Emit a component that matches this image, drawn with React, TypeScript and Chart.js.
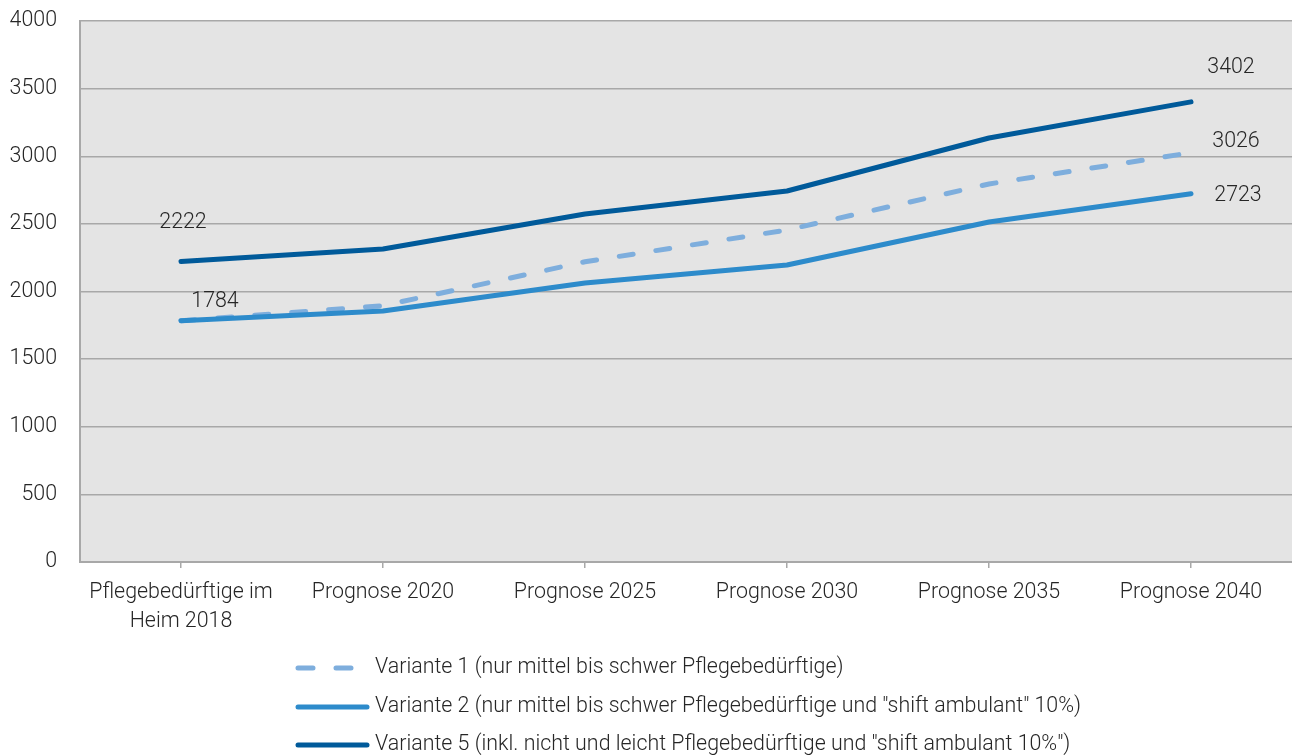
import React, { useEffect, useRef } from "react";
import { Chart, registerables } from "chart.js";

Chart.register(...registerables);

const categories: (string | string[])[] = [
  ["Pflegebedürftige im", "Heim 2018"],
  "Prognose 2020",
  "Prognose 2025",
  "Prognose 2030",
  "Prognose 2035",
  "Prognose 2040",
];

const variante1 = [1784, 1895, 2220, 2455, 2795, 3026];
const variante2 = [1784, 1856, 2063, 2196, 2514, 2723];
const variante5 = [2222, 2314, 2573, 2743, 3135, 3402];

const seriesNames = [
  "Variante 1 (nur mittel bis schwer Pflegebedürftige)",
  "Variante 2 (nur mittel bis schwer Pflegebedürftige und \"shift ambulant\" 10%)",
  "Variante 5 (inkl. nicht und leicht Pflegebedürftige und \"shift ambulant 10%\")",
];

const yTicks = [0, 500, 1000, 1500, 2000, 2500, 3000, 3500, 4000];

const COLOR_V1 = "#7eaedd";
const COLOR_V2 = "#2d8bcb";
const COLOR_V5 = "#005a9a";
const GRID = "#a8a8a8";
const TEXT = "#262626";
const FONT = "Roboto";
const FONT_SIZE = 21.4;

// Value labels: [datasetIndex, pointIndex, dx, dy]
const valueLabels: [number, number, number, number][] = [
  [2, 0, 2, -39],
  [1, 0, 34, -19],
  [2, 5, 40, -34],
  [0, 5, 45, -11],
  [1, 5, 47, 2],
];

const plotBackground = {
  id: "plotBackground",
  beforeDraw(chart: any) {
    const { ctx, chartArea } = chart;
    ctx.save();
    ctx.fillStyle = "#e4e4e4";
    ctx.fillRect(chartArea.left, chartArea.top, chartArea.right - chartArea.left, chartArea.bottom - chartArea.top);
    ctx.restore();
  },
};

const pointValues = {
  id: "pointValues",
  afterDatasetsDraw(chart: any) {
    const { ctx } = chart;
    ctx.save();
    ctx.font = `300 ${FONT_SIZE}px ${FONT}`;
    ctx.fillStyle = TEXT;
    ctx.textAlign = "center";
    ctx.textBaseline = "middle";
    for (const [ds, idx, dx, dy] of valueLabels) {
      const el = chart.getDatasetMeta(ds).data[idx];
      const v = chart.data.datasets[ds].data[idx];
      ctx.fillText(String(v), el.x + dx, el.y + dy);
    }
    ctx.restore();
  },
};

const stackedLegend = {
  id: "stackedLegend",
  afterDraw(chart: any) {
    const { ctx } = chart;
    const rows = [668, 707, 745];
    const x0 = 298;
    const x1 = 367;
    ctx.save();
    chart.data.datasets.forEach((ds: any, i: number) => {
      const y = rows[i];
      ctx.beginPath();
      ctx.strokeStyle = ds.borderColor;
      ctx.lineWidth = 5;
      ctx.lineCap = "round";
      if (ds.borderDash && ds.borderDash.length) {
        ctx.setLineDash([15, 23]);
      } else {
        ctx.setLineDash([]);
      }
      ctx.moveTo(x0, y);
      ctx.lineTo(x1, y);
      ctx.stroke();
      ctx.setLineDash([]);
      ctx.font = `300 ${FONT_SIZE}px ${FONT}`;
      ctx.fillStyle = TEXT;
      ctx.textAlign = "left";
      ctx.textBaseline = "middle";
      ctx.fillText(ds.label, 375, y);
    });
    ctx.restore();
  },
};

export default function App() {
  const canvasRef = useRef<HTMLCanvasElement>(null);

  useEffect(() => {
    document.body.style.margin = "0";
    const canvas = canvasRef.current;
    if (!canvas) return;
    const chart = new Chart(canvas, {
      type: "line",
      data: {
        labels: categories,
        datasets: [
          {
            label: seriesNames[0],
            data: variante1,
            borderColor: COLOR_V1,
            borderWidth: 5,
            borderDash: [14, 23],
            borderCapStyle: "round",
            pointRadius: 0,
            tension: 0,
            order: 3,
          },
          {
            label: seriesNames[1],
            data: variante2,
            borderColor: COLOR_V2,
            borderWidth: 5,
            borderCapStyle: "round",
            borderJoinStyle: "round",
            pointRadius: 0,
            tension: 0,
            order: 2,
          },
          {
            label: seriesNames[2],
            data: variante5,
            borderColor: COLOR_V5,
            borderWidth: 5,
            borderCapStyle: "round",
            borderJoinStyle: "round",
            pointRadius: 0,
            tension: 0,
            order: 1,
          },
        ] as any,
      },
      options: {
        animation: false,
        responsive: false,
        maintainAspectRatio: false,
        layout: { padding: { top: 21, right: 0, left: 0, bottom: 0 } },
        plugins: {
          legend: { display: false },
          tooltip: { enabled: false },
        },
        scales: {
          x: {
            offset: true,
            grid: {
              offset: false,
              drawOnChartArea: false,
              drawTicks: true,
              tickLength: 6,
              color: GRID,
              lineWidth: 1.5,
            },
            border: { display: true, color: GRID, width: 2 },
            ticks: {
              color: TEXT,
              padding: 10,
              maxRotation: 0,
              autoSkip: false,
              font: { family: FONT, size: FONT_SIZE, weight: "300" as any, lineHeight: 1.36 },
            },
            afterFit(scale: any) {
              scale.height = 194;
              scale.paddingLeft = 0;
              scale.paddingRight = 0;
            },
          },
          y: {
            min: 0,
            max: 4000,
            afterBuildTicks(scale: any) {
              scale.ticks = yTicks.map((v) => ({ value: v }));
            },
            grid: {
              drawTicks: false,
              color: GRID,
              lineWidth: 1.5,
            },
            border: { display: true, color: GRID, width: 2 },
            ticks: {
              color: TEXT,
              padding: 23,
              font: { family: FONT, size: FONT_SIZE, weight: "300" as any },
              callback: (value: any) => String(value),
            },
            afterFit(scale: any) {
              scale.width = 80;
              scale.paddingTop = 0;
              scale.paddingBottom = 0;
            },
          },
        },
      },
      plugins: [plotBackground, pointValues, stackedLegend],
    });
    return () => chart.destroy();
  }, []);

  return (
    <div style={{ width: 1292, height: 756 }}>
      <canvas ref={canvasRef} width={1292} height={756} style={{ display: "block" }} />
    </div>
  );
}
